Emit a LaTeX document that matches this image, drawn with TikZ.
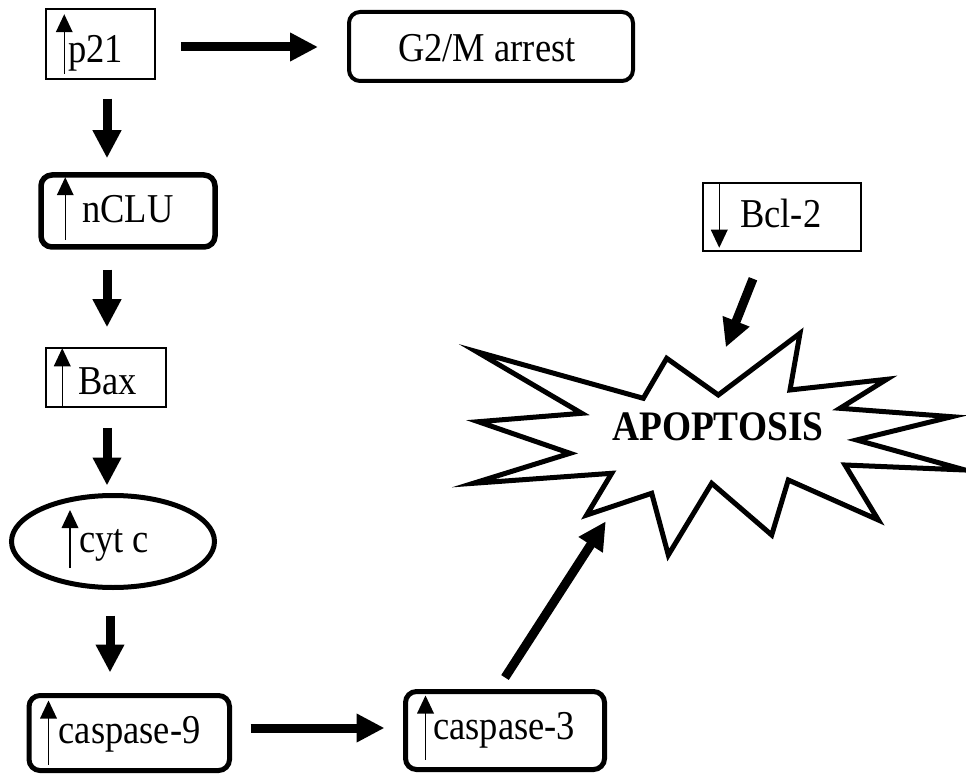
\documentclass[tikz,border=0pt]{standalone}
\usepackage{fontspec}
\setmainfont{Liberation Serif}[FakeStretch=0.89]
\usetikzlibrary{arrows.meta,calc,shapes.geometric}
\tikzset{
  thinbox/.style={draw, line width=1.5pt, inner sep=0pt},
  thickbox/.style={draw, line width=5pt, rounded corners=11pt, inner sep=0pt},
  lbl/.style={inner sep=0pt, anchor=base west, font=\fontsize{41}{43}\selectfont},
  blk/.style={line width=9pt, -{Triangle[width=27pt,length=28pt]}},
  thinline/.style={line width=1.5pt}
}
% #1 = tail coordinate, #2 = tip coordinate, #3 = +1 (tip up) or -1 (tip down)
\newcommand\smallarrowin[3]{%
  \draw[thinline] (#1) -- ($(#2)+(0,#3*17)$);
  \fill (#2) -- ($(#2)+(-8.5,#3*18)$) -- ($(#2)+(8.5,#3*18)$) -- cycle;}
\begin{document}
\begin{tikzpicture}[x=1pt,y=-1pt]
\useasboundingbox (0,0) rectangle (966,775);
% boxes
\node[thinbox, minimum width=109pt, minimum height=70pt] (p21) at (100.5,44) {};
\node[thickbox, line width=4pt, minimum width=284pt, minimum height=69pt] (g2m) at (491,46.5) {};
\node[thickbox, line width=5.5pt, minimum width=174pt, minimum height=72pt] (nclu) at (128,211) {};
\node[thinbox, minimum width=120pt, minimum height=59pt] (bax) at (106,377.5) {};
\node[draw, ellipse, line width=5pt, inner sep=0pt, minimum width=203pt, minimum height=92pt] (cyt) at (113,541.5) {};
\node[thickbox, minimum width=200.5pt, minimum height=75pt] (casp9) at (129.25,733) {};
\node[thickbox, minimum width=199pt, minimum height=78pt] (casp3) at (505,730.5) {};
\node[thinbox, minimum width=158pt, minimum height=68pt] (bcl2) at (782,217) {};
% labels
\node[lbl] (p21t) at (68,63) {p21};
\node[lbl] (g2mt) at (398,62) {G2/M arrest};
\node[lbl] (nclut) at (82,223) {nCLU};
\node[lbl] (baxt) at (78,394) {Bax};
\node[lbl] (cytt) at (79,552) {cyt c};
\node[lbl] (casp9t) at (58.5,743) {caspase-9};
\node[lbl] (casp3t) at (433,739) {caspase-3};
\node[lbl] (bcl2t) at (740,228) {Bcl-2};
% starburst
\draw[line width=5pt, line join=miter, miter limit=20]
 (476.7,351.7) -- (643.3,398.3) -- (666.7,358.3) -- (718.3,395) -- (800,333.3) -- (790,390)
 -- (886.7,379.3) -- (840,408.3) -- (951.7,416.7) -- (856.7,440) -- (965,470) -- (845,465)
 -- (878.3,520) -- (788.3,480) -- (771.7,535) -- (711.7,483.3) -- (668.3,555) -- (651.7,493.3)
 -- (586.7,515) -- (611.7,473.3) -- (473.3,483.3) -- (570,453.3) -- (478.3,421.7) -- (581.7,413.3) -- cycle;
\node[inner sep=0pt, anchor=base west, font=\fontsize{42}{44}\selectfont\bfseries] (apop) at (612,440) {APOPTOSIS};
% small arrows in boxes
\coordinate (p21b) at ($(p21.south west)+(19,-6)$);   \coordinate (p21u) at ($(p21.north west)+(19,6)$);
\coordinate (nclub) at ($(nclu.south west)+(27,-10)$); \coordinate (nclua) at ($(nclu.north west)+(27,5)$);
\coordinate (baxb) at ($(bax.south west)+(17,0)$);     \coordinate (baxu) at ($(bax.north west)+(17,1)$);
\coordinate (cytb) at ($(cyt.center)+(-43,26.5)$);     \coordinate (cytu) at ($(cyt.center)+(-43,-31.5)$);
\coordinate (c9b) at ($(casp9.south west)+(22,-8.5)$); \coordinate (c9u) at ($(casp9.north west)+(22,7.5)$);
\coordinate (c3b) at ($(casp3.south west)+(22.5,-12.5)$); \coordinate (c3u) at ($(casp3.north west)+(22.5,6.5)$);
\coordinate (bclt) at ($(bcl2.north west)+(17,0)$);    \coordinate (bcld) at ($(bcl2.south west)+(17,-4)$);
\smallarrowin{p21b}{p21u}{1}
\smallarrowin{nclub}{nclua}{1}
\smallarrowin{baxb}{baxu}{1}
\smallarrowin{cytb}{cytu}{1}
\smallarrowin{c9b}{c9u}{1}
\smallarrowin{c3b}{c3u}{1}
\smallarrowin{bclt}{bcld}{-1}
% connectors
\draw[blk] ($(p21.east)+(25,3)$) -- ($(g2m.west)+(-29,0.5)$);
\draw[blk] ($(p21.south)+(6.5,19)$) -- ($(nclu.north)+(-21,-14)$);
\draw[blk] ($(nclu.south)+(-21,20)$) -- ($(bax.north)+(1,-20)$);
\draw[blk] ($(bax.south)+(1,20)$) -- ($(cyt.north)+(-6,-7.5)$);
\draw[blk] ($(cyt.south)+(-3,25.5)$) -- ($(casp9.north)+(-19.25,-20.5)$);
\draw[blk] ($(casp9.east)+(18.5,-5)$) -- ($(casp3.west)+(-18.5,-2.5)$);
\draw[blk] ($(casp3.north)+(0,-11.5)$) -- ($(apop.center)+(-112,95)$);
\draw[blk] ($(bcl2.south)+(-29,27)$) -- ($(apop.center)+(8,-79)$);
\end{tikzpicture}
\end{document}
